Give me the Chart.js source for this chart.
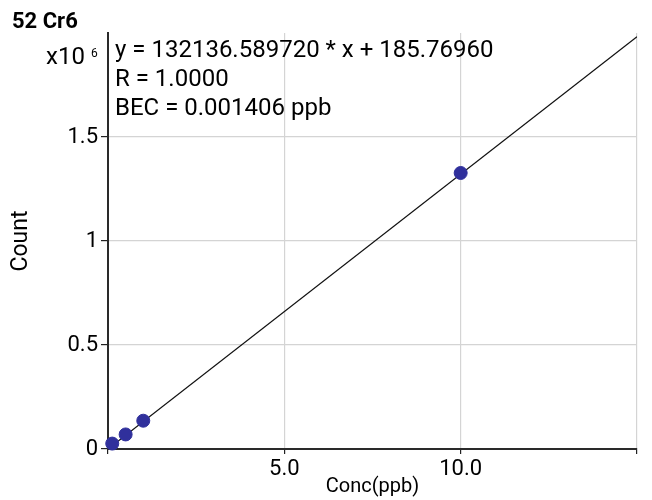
<!DOCTYPE html>
<html><head><meta charset="utf-8">
<script src="https://cdn.jsdelivr.net/npm/chart.js@4/dist/chart.umd.min.js"></script>
<style>html,body{margin:0;padding:0;background:#fff}#wrap{width:652px;height:500px;position:relative}</style>
</head><body><div id="wrap"><canvas id="c" width="652" height="500"></canvas></div>
<script>
const chartTitle = "52 Cr6";
const concPpb = [0.12, 0.5, 1.0, 10.0];
const counts = [26000, 70000, 136000, 1327000];
const fitX = [0, 15];
const fitY = [185.7696, 1982234.6154];
const yTickLabels = {0: "0", 500000: "0.5", 1000000: "1", 1500000: "1.5"};
const xTickLabels = {5: "5.0", 10: "10.0"};
const annotationLines = ["y = 132136.589720 * x + 185.76960", "R = 1.0000", "BEC = 0.001406 ppb"];
const xTitle = "Conc(ppb)";
const yTitle = "Count";

const FONT = "Roboto";

const textPlugin = {
  id: 'texts',
  afterDraw(chart) {
    const ctx = chart.ctx;
    ctx.save();
    ctx.fillStyle = '#000';
    ctx.textBaseline = 'alphabetic';
    ctx.textAlign = 'left';
    ctx.font = "bold 22px " + FONT;
    ctx.fillText(chartTitle, 12, 28);
    ctx.font = "24px " + FONT;
    ctx.fillText("x10", 46, 64);
    ctx.font = "12px " + FONT;
    ctx.fillText("6", 91, 57);
    ctx.font = "24px " + FONT;
    const base = [57, 86, 114.5];
    annotationLines.forEach((t, i) => ctx.fillText(t, 115, base[i]));
    ctx.restore();
  }
};

new Chart(document.getElementById('c'), {
  type: 'scatter',
  data: {
    datasets: [
      {
        type: 'scatter',
        data: concPpb.map((x, i) => ({x: x, y: counts[i]})),
        backgroundColor: '#30309c',
        borderColor: '#30309c',
        pointRadius: 6.5,
        pointHoverRadius: 6.5,
        clip: false,
        order: 0
      },
      {
        type: 'line',
        data: fitX.map((x, i) => ({x: x, y: fitY[i]})),
        borderColor: '#111',
        borderWidth: 1.3,
        pointRadius: 0,
        fill: false,
        order: 1
      }
    ]
  },
  options: {
    responsive: false,
    animation: false,
    layout: {padding: {left: 0, right: 15, top: 33, bottom: 0}},
    plugins: {legend: {display: false}, tooltip: {enabled: false}},
    scales: {
      x: {
        type: 'linear', min: 0, max: 15,
        afterFit(s) { s.height = 51; },
        ticks: {
          stepSize: 5, padding: 2, color: '#000',
          font: {family: FONT, size: 22},
          maxRotation: 0, autoSkip: false,
          callback: v => (xTickLabels[v] !== undefined ? xTickLabels[v] : '')
        },
        grid: {
          color: c => (c.tick && c.tick.value > 0 ? '#d4d4d4' : 'rgba(0,0,0,0)'),
          lineWidth: 1.2, tickColor: '#222', tickLength: 5, drawTicks: true
        },
        border: {display: true, color: '#2a2a2a', width: 2},
        title: {display: true, text: xTitle, color: '#000', font: {family: FONT, size: 20}, padding: {top: 0, bottom: 1}}
      },
      y: {
        type: 'linear', min: 0, max: 2000000,
        afterFit(s) { s.width = 108; },
        ticks: {
          stepSize: 500000, padding: 3, color: '#000',
          font: {family: FONT, size: 22},
          callback: v => (yTickLabels[v] !== undefined ? yTickLabels[v] : '')
        },
        grid: {
          color: c => (c.tick && c.tick.value > 0 && c.tick.value < 2000000 ? '#d4d4d4' : 'rgba(0,0,0,0)'),
          lineWidth: 1.2,
          tickColor: c => (c.tick && c.tick.value < 2000000 ? '#222' : 'rgba(0,0,0,0)'),
          tickLength: 7, drawTicks: true
        },
        border: {display: true, color: '#2a2a2a', width: 2},
        title: {display: true, text: yTitle, color: '#000', font: {family: FONT, size: 23}, padding: {top: 7, bottom: 0}}
      }
    }
  },
  plugins: [textPlugin]
});
</script></body></html>
